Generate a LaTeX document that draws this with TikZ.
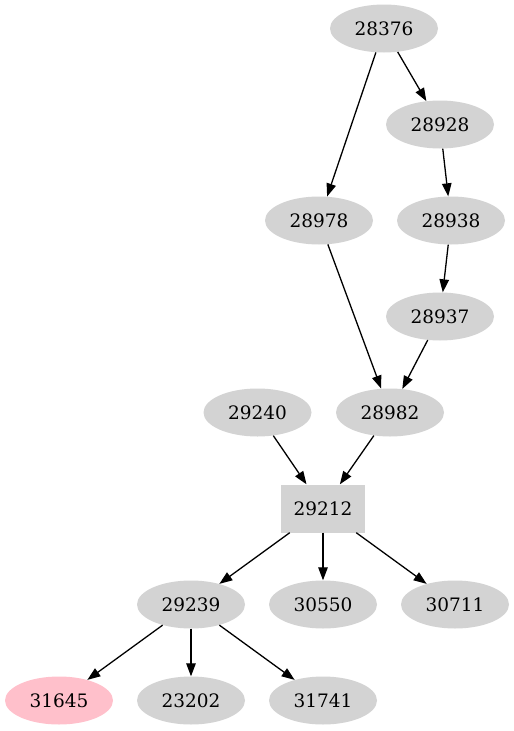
\documentclass[tikz,border=0pt]{standalone}
\usepackage{fontspec}
\setmainfont{DejaVu Serif}
\usetikzlibrary{arrows.meta,shapes.geometric}
\definecolor{nodegray}{RGB}{211,211,211}
\definecolor{nodepink}{RGB}{255,192,203}
\tikzset{
  nd/.style={ellipse, fill=nodegray, draw=none, minimum width=108pt, minimum height=48pt, inner sep=0pt, font=\fontsize{18.5}{20}\selectfont},
  ndbox/.style={rectangle, fill=nodegray, draw=none, minimum width=84pt, minimum height=48pt, inner sep=0pt, font=\fontsize{18.5}{20}\selectfont},
  ndpink/.style={nd, fill=nodepink},
  arrow/.style={-{Triangle[length=13pt,width=9.5pt]}, line width=1.3pt}
}
\begin{document}
\begin{tikzpicture}[x=1pt, y=-1pt]
  \useasboundingbox (0,0) rectangle (514,731);

  \node[nd] (n28376) at (384,28.5) {28376};
  \node[nd] (n28928) at (440,124.5) {28928};
  \node[nd] (n28978) at (319,220.5) {28978};
  \node[nd] (n28938) at (451,220.5) {28938};
  \node[nd] (n28937) at (440,316.5) {28937};
  \node[nd] (n29240) at (257.5,412.5) {29240};
  \node[nd] (n28982) at (390,412.5) {28982};
  \node[ndbox] (n29212) at (323,508.5) {29212};
  \node[nd] (n29239) at (191,604.5) {29239};
  \node[nd] (n30550) at (323,604.5) {30550};
  \node[nd] (n30711) at (455,604.5) {30711};
  \node[ndpink] (n31645) at (59,700.5) {31645};
  \node[nd] (n23202) at (191,700.5) {23202};
  \node[nd] (n31741) at (323,700.5) {31741};

  \foreach \a/\b in {n28376/n28928,n28376/n28978,n28928/n28938,n28938/n28937,
                     n28978/n28982,n28937/n28982,n29240/n29212,n28982/n29212,
                     n29212/n29239,n29212/n30550,n29212/n30711,
                     n29239/n31645,n29239/n23202,n29239/n31741}
    \draw[arrow] (\a) -- (\b);
\end{tikzpicture}
\end{document}
